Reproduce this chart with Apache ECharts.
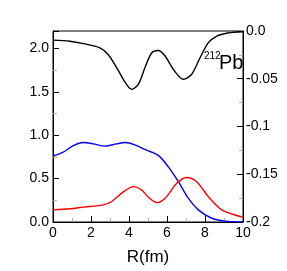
<!DOCTYPE html>
<html><head><meta charset="utf-8">
<script src="https://cdn.jsdelivr.net/npm/echarts@6/dist/echarts.min.js"></script>
<style>html,body{margin:0;padding:0;background:#fff}#c{width:287px;height:271px}</style>
</head><body><div id="c"></div>
<script>
// R (fm) sample positions and values
const blackR   = [0, 0.9, 1.6, 2.47, 2.9, 3.35, 3.8, 4.14, 4.5, 4.84, 5.2, 5.54, 5.9, 6.33, 6.86, 7.3, 7.74, 8.17, 8.6, 9.2, 10];
const blackVal = [-0.0096, -0.0107, -0.0132, -0.0176, -0.0246, -0.0383, -0.0539, -0.0611, -0.0556, -0.0383, -0.0228, -0.0204, -0.0262, -0.0401, -0.0505, -0.0453, -0.028, -0.0124, -0.0055, -0.0021, -0.0008];
const blueR    = [0, 0.54, 1.07, 1.6, 2.12, 2.74, 3.35, 3.8, 4.3, 4.9, 5.54, 6.07, 6.6, 7.12, 7.65, 8.33, 9.05, 10];
const blueVal  = [0.76, 0.806, 0.88, 0.915, 0.90, 0.874, 0.90, 0.915, 0.889, 0.83, 0.767, 0.635, 0.464, 0.274, 0.14, 0.046, 0.01, 0.002];
const redR     = [0, 0.9, 1.6, 2.65, 3.09, 3.6, 4.23, 4.67, 5.0, 5.46, 5.9, 6.51, 7.03, 7.56, 8.17, 8.88, 10];
const redVal   = [0.14, 0.152, 0.171, 0.197, 0.236, 0.33, 0.407, 0.368, 0.29, 0.224, 0.274, 0.445, 0.513, 0.464, 0.293, 0.14, 0.055];
const xTicks = [0, 2, 4, 6, 8, 10];
const leftTickLabels = ['0.0', '0.5', '1.0', '1.5', '2.0'];
const rightTickLabels = ['0.0', '-0.05', '-0.1', '-0.15', '-0.2'];

const zip = (a, b) => a.map((v, i) => [v, b[i]]);
const font = 'Liberation Sans, Arial, sans-serif';
const chart = echarts.init(document.getElementById('c'));
chart.setOption({
  animation: false,
  grid: {left: 53, right: 44, top: 31, bottom: 47, show: true, borderColor: '#000', borderWidth: 1, backgroundColor: 'transparent'},
  xAxis: {
    type: 'value', min: 0, max: 10, interval: 2,
    name: 'R(fm)', nameLocation: 'middle', nameGap: 27,
    nameTextStyle: {fontSize: 17, color: '#000', fontFamily: font},
    axisLine: {lineStyle: {color: '#000'}},
    axisTick: {inside: true, length: 6, lineStyle: {color: '#000'}},
    minorTick: {show: true, splitNumber: 2, length: 4, lineStyle: {color: '#aaa'}},
    splitLine: {show: false},
    axisLabel: {fontSize: 14, color: '#000', fontFamily: font, margin: 4,
      formatter: v => xTicks.includes(v) ? String(v) : ''}
  },
  yAxis: [{
    type: 'value', min: 0, max: 2.2, interval: 0.5, position: 'left',
    axisLine: {show: true, lineStyle: {color: '#000'}},
    axisTick: {show: true, inside: true, length: 6, lineStyle: {color: '#000'}},
    minorTick: {show: true, splitNumber: 2, length: 4, lineStyle: {color: '#aaa'}},
    splitLine: {show: false},
    axisLabel: {fontSize: 14, color: '#000', fontFamily: font, margin: 4, showMaxLabel: false,
      formatter: v => { const i = Math.round(v / 0.5); return (Math.abs(v - i * 0.5) < 1e-6 && leftTickLabels[i]) ? leftTickLabels[i] : ''; }}
  }, {
    type: 'value', min: -0.2, max: 0, interval: 0.05, position: 'right',
    axisLine: {show: true, lineStyle: {color: '#000'}},
    axisTick: {show: true, inside: true, length: 6, lineStyle: {color: '#000'}},
    minorTick: {show: true, splitNumber: 2, length: 4, lineStyle: {color: '#aaa'}},
    splitLine: {show: false},
    axisLabel: {fontSize: 14, color: '#000', fontFamily: font, margin: 3,
      formatter: v => { const i = Math.round(-v / 0.05); return rightTickLabels[i] || ''; }}
  }],
  graphic: [
    {type: 'text', left: 204, top: 51, style: {text: '212', font: '10px Liberation Sans', fill: '#000'}},
    {type: 'text', left: 219, top: 53, style: {text: 'Pb', font: '20px Liberation Sans', fill: '#000'}}
  ],
  series: [
    {type: 'line', yAxisIndex: 1, data: zip(blackR, blackVal), smooth: 0.3, showSymbol: false, lineStyle: {color: '#000', width: 1.4}},
    {type: 'line', yAxisIndex: 0, data: zip(blueR, blueVal), smooth: 0.3, showSymbol: false, lineStyle: {color: '#0000ff', width: 1.4}},
    {type: 'line', yAxisIndex: 0, data: zip(redR, redVal), smooth: 0.3, showSymbol: false, lineStyle: {color: '#ff0000', width: 1.4}}
  ]
});
</script></body></html>
